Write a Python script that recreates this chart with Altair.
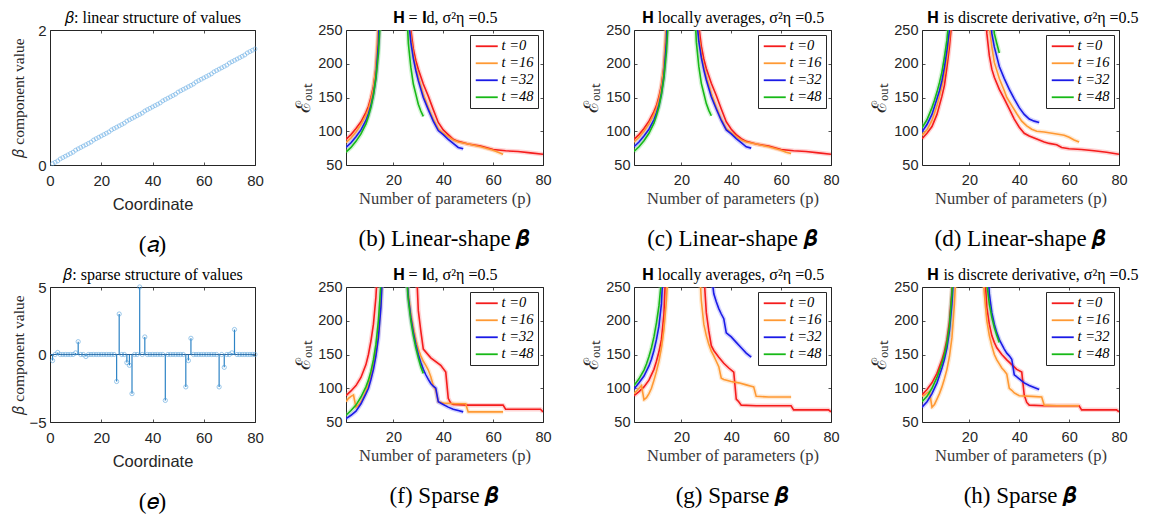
import altair as alt
import pandas as pd

SERIF = "Liberation Serif"
SANS = "Liberation Sans"
INK = "#262626"

# ---------------- data ----------------
COORD = list(range(1, 81))

BETA_LINEAR = [0.02, 0.04, 0.06, 0.09, 0.11, 0.13, 0.15, 0.17, 0.19, 0.22,
               0.24, 0.26, 0.28, 0.30, 0.32, 0.34, 0.37, 0.39, 0.41, 0.43,
               0.45, 0.47, 0.49, 0.52, 0.54, 0.56, 0.58, 0.60, 0.62, 0.65,
               0.67, 0.69, 0.71, 0.73, 0.75, 0.77, 0.80, 0.82, 0.84, 0.86,
               0.88, 0.90, 0.92, 0.95, 0.97, 0.99, 1.01, 1.03, 1.05, 1.08,
               1.10, 1.12, 1.14, 1.16, 1.18, 1.20, 1.23, 1.25, 1.27, 1.29,
               1.31, 1.33, 1.35, 1.38, 1.40, 1.42, 1.44, 1.46, 1.48, 1.51,
               1.53, 1.55, 1.57, 1.59, 1.61, 1.63, 1.66, 1.68, 1.70, 1.72]

BETA_SPARSE = [-0.45, 0, 0.15, 0, 0, 0, 0, 0, 0, 0.12,
               0.95, 0, 0, -0.15, 0, 0, 0, 0, 0, 0,
               0, 0, 0, 0, 0, -2.0, 3.0, 0, 0, -0.6,
               -0.8, -2.9, 0, 0, 5.0, 0, 1.3, 0, 0, 0,
               0, 0, 0, 0, -3.4, 0, 0, 0, 0, 0,
               0, 0, -2.4, -0.45, 1.2, 0, 0, 0, 0, 0,
               0, 0, 0, 0, 0, -2.4, 0, -0.95, 0, 0,
               0.12, 1.85, 0, 0, 0, 0, 0, 0, 0, 0]

SERIES = ["t =0", "t =16", "t =32", "t =48"]
LINE_COLORS = ["#f51c1c", "#ff9933", "#1a1ae6", "#17b917"]
HALO_COLORS = ["#ff8080", "#ffc485", "#8080ff", "#85dc85"]

# (p, error) samples
B0 = [(1,88),(3,95),(5,104),(7,114),(9,128),(10,137),(11,150),(12,166),(13,192),(14,240),(15,330),(17,700),(20,3000),(23,900),(25,420),(26,300),(27,250),(28,222),(29,205),(30,192),(32,170),(34,152),(36,132),(38,113),(40,102),(42,95),(44,88),(46,85),(50,81),(55,78),(60,73),(65,71),(70,70),(75,68),(80,66)]
B16 = [(1,83),(3,90),(5,99),(7,110),(9,124),(10,133),(11,146),(12,164),(13,195),(14,260),(15,400),(17,900),(20,3000),(23,800),(25,380),(26,280),(27,240),(28,213),(29,195),(30,180),(32,155),(34,135),(36,118),(38,104),(40,97),(42,92),(44,87),(46,84),(50,81),(55,77),(60,72),(62,69),(64,66)]
B32 = [(1,76),(3,83),(5,92),(7,102),(9,116),(10,126),(11,138),(12,155),(13,180),(14,230),(15,350),(17,800),(20,3000),(23,800),(25,360),(26,270),(27,232),(28,208),(29,190),(30,175),(32,150),(34,132),(36,115),(38,101),(40,95),(42,88),(44,82),(46,76),(48,74)]
B48 = [(1,69),(3,76),(5,85),(7,96),(9,111),(10,122),(11,135),(12,153),(13,178),(14,215),(15,280),(17,600),(20,3000),(23,700),(24,450),(25,310),(26,230),(27,195),(28,170),(29,155),(30,140),(31,130),(32,122)]

C0 = [(1,88),(3,95),(5,104),(7,115),(9,129),(10,138),(11,151),(12,168),(13,195),(14,245),(15,340),(17,700),(20,3000),(23,900),(25,430),(26,310),(27,255),(28,226),(29,207),(30,193),(32,171),(34,153),(36,133),(38,114),(40,103),(42,95),(44,89),(46,85),(50,81),(55,78),(60,73),(65,71),(70,70),(75,68),(80,66)]
C16 = [(1,84),(3,91),(5,100),(7,111),(9,125),(10,134),(11,147),(12,165),(13,196),(14,262),(15,400),(17,900),(20,3000),(23,800),(25,380),(26,282),(27,241),(28,214),(29,196),(30,181),(32,156),(34,136),(36,118),(38,104),(40,98),(42,92),(44,87),(46,84),(50,81),(55,77),(60,72),(62,69),(64,67)]
C32 = [(1,77),(3,84),(5,93),(7,103),(9,117),(10,127),(11,139),(12,156),(13,182),(14,232),(15,350),(17,800),(20,3000),(23,800),(25,360),(26,272),(27,233),(28,209),(29,191),(30,176),(32,151),(34,133),(36,116),(38,102),(40,96),(42,89),(44,83),(46,77),(48,75)]
C48 = [(1,70),(3,77),(5,86),(7,97),(9,112),(10,123),(11,136),(12,154),(13,179),(14,217),(15,282),(17,600),(20,3000),(23,700),(24,450),(25,312),(26,232),(27,196),(28,171),(29,156),(30,141),(31,131),(32,123)]

D0 = [(1,89),(3,97),(5,107),(7,125),(9,152),(10,168),(11,195),(12,225),(13,265),(14,400),(17,1500),(20,3000),(23,1500),(25,500),(26,320),(27,245),(28,212),(29,192),(30,180),(32,162),(34,148),(36,133),(38,118),(40,106),(42,97),(44,93),(46,90),(50,84),(52,82),(55,80),(57,76),(60,74),(65,73),(70,71),(75,69),(80,66)]
D16 = [(1,94),(3,102),(5,116),(7,138),(8,152),(9,168),(10,185),(11,208),(12,238),(13,300),(15,700),(20,3000),(25,800),(27,300),(28,255),(29,225),(30,202),(32,178),(34,160),(35,150),(37,138),(39,126),(41,115),(43,108),(45,103),(47,100),(50,99),(55,96),(58,94),(60,91),(62,87),(64,84)]
D32 = [(1,99),(3,110),(5,125),(7,148),(8,160),(9,175),(10,195),(11,220),(12,250),(13,320),(15,800),(20,3000),(25,1000),(27,400),(28,290),(29,245),(30,225),(32,196),(34,178),(36,162),(38,148),(40,135),(42,125),(44,118),(46,115),(48,113)]
D48 = [(1,105),(3,117),(5,135),(6,146),(7,158),(8,172),(9,188),(10,210),(11,235),(12,275),(14,600),(20,3000),(26,900),(28,450),(29,290),(30,245),(31,230),(32,216)]

F0 = [(1,89),(3,96),(5,104),(7,116),(9,135),(10,150),(11,170),(12,195),(13,235),(14,300),(16,700),(20,3000),(25,1000),(28,500),(29,300),(30,215),(31,185),(32,158),(35,145),(39,134),(41,124),(42,85),(43,78),(44,76),(50,75),(64,75),(65,69),(79,69),(80,65)]
F16 = [(1,80),(2,85),(3,88),(4,90),(5,72),(6,75),(7,80),(8,87),(9,96),(10,105),(11,118),(12,134),(13,155),(14,183),(15,230),(16,300),(18,800),(20,3000),(23,800),(25,300),(26,240),(27,210),(28,190),(29,172),(30,158),(31,148),(32,140),(33,134),(34,127),(35,117),(36,104),(37,97),(38,80),(40,78),(45,77),(49,77),(50,65),(55,65),(60,65),(64,65)]
F32 = [(1,55),(3,60),(5,66),(7,77),(9,92),(10,100),(11,113),(12,128),(13,148),(14,175),(15,220),(16,300),(18,800),(20,3000),(23,800),(25,290),(26,235),(27,205),(28,183),(29,165),(30,150),(31,138),(32,128),(33,120),(34,113),(35,107),(36,103),(37,100),(38,80),(40,76),(42,72),(44,69),(46,67),(48,65)]
F48 = [(1,60),(3,67),(5,75),(7,87),(9,102),(10,112),(11,125),(12,142),(13,165),(14,200),(15,255),(16,350),(18,900),(20,3000),(23,800),(25,280),(26,230),(27,200),(28,178),(29,160),(30,145),(31,132),(32,122)]

G0 = [(1,89),(3,95),(5,102),(7,112),(9,128),(10,140),(11,154),(12,172),(13,210),(14,300),(16,800),(20,3000),(25,1000),(28,400),(29,270),(30,212),(31,185),(32,163),(33,156),(35,146),(37,137),(39,130),(41,124),(42,84),(43,80),(44,75),(50,74),(64,74),(65,68),(79,68),(80,65)]
G16 = [(1,92),(2,96),(3,100),(4,104),(5,83),(6,86),(7,92),(8,100),(9,112),(10,125),(11,140),(12,160),(13,188),(14,230),(15,300),(17,800),(20,3000),(25,800),(27,300),(28,230),(29,195),(30,178),(31,165),(32,155),(33,148),(34,140),(35,132),(36,115),(37,113),(40,110),(43,108),(46,105),(48,103),(49,102),(50,88),(55,87),(60,87),(64,87)]
G32 = [(1,99),(3,108),(5,118),(7,133),(8,143),(9,156),(10,172),(11,192),(12,225),(13,300),(15,800),(20,3000),(25,1500),(30,600),(32,270),(33,240),(34,228),(35,218),(36,210),(37,203),(38,182),(40,176),(42,168),(44,160),(46,152),(48,146)]
G48 = [(1,104),(3,114),(5,127),(6,136),(7,147),(8,160),(9,176),(10,197),(11,222),(12,260),(14,600),(20,3000),(26,1500),(32,900)]

H0 = [(1,90),(3,98),(5,108),(7,122),(9,142),(10,155),(11,172),(12,198),(13,245),(14,320),(16,800),(20,3000),(24,800),(26,280),(27,220),(28,195),(29,178),(30,168),(31,160),(33,150),(35,142),(37,135),(39,128),(41,124),(42,90),(43,79),(44,75),(50,74),(64,74),(65,68),(79,68),(80,65)]
H16 = [(1,88),(2,90),(3,93),(4,95),(5,72),(6,76),(7,84),(8,92),(9,102),(10,114),(11,128),(12,147),(13,175),(14,225),(15,300),(17,800),(20,3000),(23,800),(25,300),(26,240),(27,200),(28,178),(29,163),(30,150),(31,142),(32,136),(33,130),(34,126),(35,121),(36,100),(37,97),(38,93),(40,89),(45,88),(49,87),(50,75),(55,74),(60,74),(64,74)]
H32 = [(1,72),(3,80),(5,92),(7,108),(9,130),(10,143),(11,160),(12,185),(13,225),(14,290),(16,800),(20,3000),(25,800),(27,300),(28,240),(29,212),(30,195),(31,182),(32,172),(33,165),(34,158),(35,152),(36,148),(37,143),(38,120),(40,114),(42,108),(44,104),(46,101),(48,98)]
H48 = [(1,80),(3,88),(5,100),(7,116),(9,137),(10,150),(11,167),(12,192),(13,240),(14,310),(16,800),(20,3000),(24,800),(26,320),(27,255),(28,225),(29,205),(30,190),(31,178),(32,168)]

CURVE_X_TICKS = [20, 40, 60, 80]
CURVE_Y_TICKS = [50, 100, 150, 200, 250]
COORD_TICKS = [0, 20, 40, 60, 80]

HEAD_I = "𝐇 = 𝐈d, σ²η =0.5"
HEAD_AVG = "𝐇 locally averages, σ²η =0.5"
HEAD_DER = "𝐇 is discrete derivative, σ²η =0.5"

W1, W, H = 205, 197, 135


def inner_axis(orient, values, **kw):
    opts = dict(orient=orient, values=values, offset=-3, tickSize=3,
                tickColor=INK, tickWidth=0.8, domain=False, grid=False,
                labelFlush=False, labelOverlap=False, labelFont=SANS,
                labelFontSize=14.5, labelColor=INK, format="d")
    opts.update(kw)
    return alt.Axis(**opts)


def head_axis(values, heading, shift=0):
    kw = dict(labels=False, title=heading, titleFont=SERIF, titleFontSize=16,
              titleColor="black", titleFontWeight="normal",
              titleBaseline="alphabetic", titleY=-11)
    if shift:
        kw["titleX"] = W / 2 + shift
    return inner_axis("top", values, **kw)


def caption_title(text):
    return alt.TitleParams(text=text, orient="bottom", font=SERIF,
                           fontSize=23, fontWeight="normal", color="black",
                           offset=21, anchor="middle")


def curve_panel(series, heading, caption, shift=0):
    rows = []
    for name, pts in zip(SERIES, series):
        for p, v in pts:
            rows.append({"p": p, "v": v, "s": name})
    df = pd.DataFrame(rows)
    xs = alt.Scale(domain=[1, 80], nice=False, zero=False)
    ys = alt.Scale(domain=[50, 250], nice=False, zero=False)
    x_bottom = inner_axis("bottom", CURVE_X_TICKS, labelPadding=8,
                          title="Number of parameters (p)", titleFont=SERIF,
                          titleFontSize=16.5, titleColor="#3a3a3a",
                          titleFontWeight="normal", titleBaseline="alphabetic",
                          titleY=41)
    y_left = inner_axis("left", CURVE_Y_TICKS, labelPadding=4,
                        title="ℰₒᵤₜ", titleFont=SERIF, titleFontSize=20,
                        titleColor=INK, titleFontWeight="normal",
                        titleAngle=270, titleBaseline="alphabetic",
                        titleX=-40)
    y_right = inner_axis("right", CURVE_Y_TICKS, labels=False, title=None)
    legend = alt.Legend(orient="top-right", offset=5, title=None,
                        strokeColor=INK, fillColor="white", padding=4,
                        symbolType="M-1,0L3,0", symbolSize=121,
                        symbolStrokeWidth=1.8, symbolOpacity=1,
                        labelFont=SERIF, labelFontSize=14.5, labelColor="black",
                        labelFontStyle="italic", rowPadding=2, labelOffset=13)
    halo = alt.Chart(df).mark_line(clip=True, strokeWidth=4.5, opacity=0.35,
                                   strokeJoin="round").encode(
        x=alt.X("p:Q", scale=xs, axis=x_bottom),
        y=alt.Y("v:Q", scale=ys, axis=y_left),
        color=alt.Color("s:N", scale=alt.Scale(domain=SERIES, range=HALO_COLORS),
                        legend=None),
    )
    line = alt.Chart(df).mark_line(clip=True, strokeWidth=1.6).encode(
        x=alt.X("p:Q", scale=xs, axis=head_axis(CURVE_X_TICKS, heading, shift)),
        y=alt.Y("v:Q", scale=ys, axis=y_right),
        color=alt.Color("s:N", scale=alt.Scale(domain=SERIES, range=LINE_COLORS),
                        legend=legend),
    )
    return (alt.layer(halo, line)
            .resolve_axis(x="independent", y="independent")
            .resolve_scale(color="independent")
            .properties(width=W, height=H, title=caption_title(caption)))


def beta_axes(yticks):
    x_bottom = inner_axis("bottom", COORD_TICKS, labelPadding=8,
                          labelFontSize=15, title="Coordinate",
                          titleFont=SANS, titleFontSize=16.5, titleColor=INK,
                          titleFontWeight="normal", titleBaseline="alphabetic",
                          titleY=47)
    y_left = inner_axis("left", yticks, labelPadding=4, labelFontSize=15,
                        title="𝛽 component value", titleFont=SERIF,
                        titleFontSize=15.5, titleColor=INK,
                        titleFontWeight="normal", titleAngle=270,
                        titleBaseline="alphabetic", titleX=-30)
    y_right = inner_axis("right", yticks, labels=False, title=None)
    return x_bottom, y_left, y_right


def linear_panel():
    df = pd.DataFrame({"c": COORD, "b": BETA_LINEAR})
    xs = alt.Scale(domain=[0, 80], nice=False)
    ys = alt.Scale(domain=[0, 2], nice=False)
    xb, yl, yr = beta_axes([0, 1, 2])
    pts = alt.Chart(df).mark_point(shape="circle", filled=False, size=16,
                                   strokeWidth=0.8, color="#5fa8e3").encode(
        x=alt.X("c:Q", scale=xs, axis=xb),
        y=alt.Y("b:Q", scale=ys, axis=yl))
    frame = alt.Chart(df).mark_point(opacity=0).encode(
        x=alt.X("c:Q", scale=xs, axis=head_axis(COORD_TICKS, "𝛽: linear structure of values")),
        y=alt.Y("b:Q", scale=ys, axis=yr))
    return (alt.layer(pts, frame)
            .resolve_axis(x="independent", y="independent")
            .properties(width=W1, height=H, title=caption_title("(𝑎)")))


def sparse_panel():
    df = pd.DataFrame({"c": COORD, "b": BETA_SPARSE})
    xs = alt.Scale(domain=[0, 80], nice=False)
    ys = alt.Scale(domain=[-5, 5], nice=False, zero=False)
    xb, yl, yr = beta_axes([-5, 0, 5])
    stems = alt.Chart(df).mark_rule(color="#2d83c5", strokeWidth=1.2).encode(
        x=alt.X("c:Q", scale=xs, axis=xb),
        y=alt.Y("b:Q", scale=ys, axis=yl),
        y2=alt.Y2Datum(0))
    base = alt.Chart(df).mark_rule(color="#2b6296", strokeWidth=1).encode(
        y=alt.YDatum(0, type="quantitative", axis=None))
    pts = alt.Chart(df).mark_point(shape="circle", filled=False, size=18,
                                   strokeWidth=0.8, color="#4d9ddb").encode(
        x=alt.X("c:Q", scale=xs, axis=head_axis(COORD_TICKS, "𝛽: sparse structure of values")),
        y=alt.Y("b:Q", scale=ys, axis=yr))
    return (alt.layer(stems, base, pts)
            .resolve_axis(x="independent", y="independent")
            .properties(width=W1, height=H, title=caption_title("(𝑒)")))


panels = [
    linear_panel(),
    curve_panel([B0, B16, B32, B48], HEAD_I, "(b) Linear-shape 𝜷"),
    curve_panel([C0, C16, C32, C48], HEAD_AVG, "(c) Linear-shape 𝜷"),
    curve_panel([D0, D16, D32, D48], HEAD_DER, "(d) Linear-shape 𝜷", shift=12),
    sparse_panel(),
    curve_panel([F0, F16, F32, F48], HEAD_I, "(f) Sparse 𝜷"),
    curve_panel([G0, G16, G32, G48], HEAD_AVG, "(g) Sparse 𝜷"),
    curve_panel([H0, H16, H32, H48], HEAD_DER, "(h) Sparse 𝜷", shift=12),
]

chart = (alt.concat(*panels, columns=4, spacing={"row": 122, "column": 91},
                    bounds="flush", align="each")
         .resolve_scale(x="independent", y="independent", color="independent")
         .properties(padding={"left": 2, "top": 0, "right": 0, "bottom": 0})
         .configure(background="white")
         .configure_view(stroke=INK, strokeWidth=1)
         .configure_axis(grid=False))

chart.save("out.html", embed_options={"renderer": "svg", "actions": False})
